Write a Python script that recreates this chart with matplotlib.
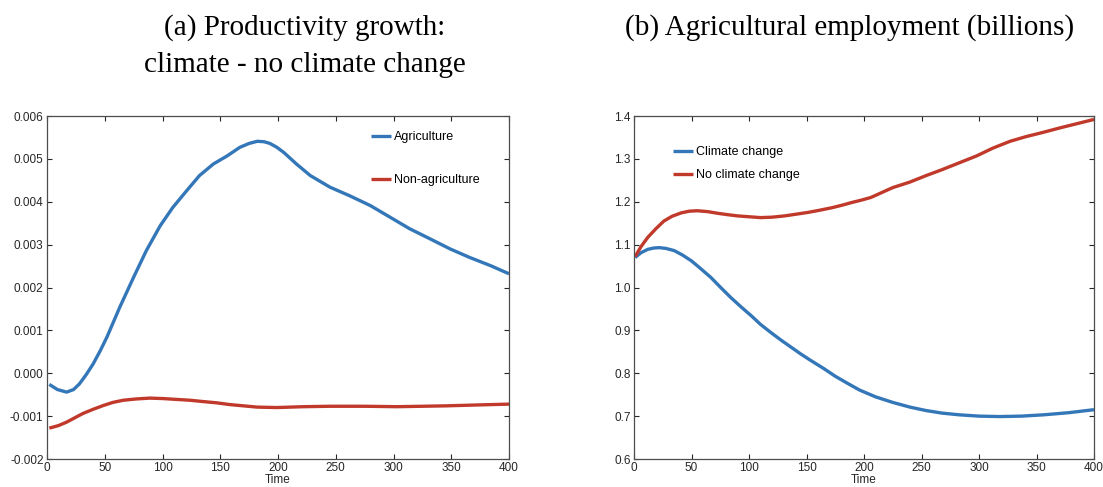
import matplotlib
matplotlib.use('Agg')
import matplotlib.pyplot as plt
from matplotlib.ticker import FormatStrFormatter

# (a) productivity growth difference, climate - no climate change
t_agri = [2, 9, 17, 23, 28, 34, 40, 46, 52, 63, 75, 86, 98, 109, 121, 132, 144, 156, 167,
          175, 182, 188, 193, 199, 205, 216, 228, 245, 262, 280, 297, 314, 332, 349, 366,
          384, 400]
agri = [-0.00026, -0.00038, -0.00044, -0.00038, -0.00025, -0.00003, 0.00022, 0.00052,
        0.00085, 0.00154, 0.00224, 0.00286, 0.00344, 0.00387, 0.00426, 0.00461, 0.00488,
        0.00507, 0.00527, 0.00536, 0.00541, 0.00540, 0.00536, 0.00527, 0.00515, 0.00488,
        0.00461, 0.00434, 0.00414, 0.00391, 0.00364, 0.00337, 0.00313, 0.00290, 0.00270,
        0.00251, 0.00232]
t_nonagri = [2, 10, 17, 24, 31, 40, 49, 57, 66, 77, 89, 100, 112, 124, 135, 147, 158, 170,
             182, 199, 222, 245, 275, 303, 325, 346, 372, 400]
nonagri = [-0.00128, -0.00122, -0.00114, -0.00104, -0.00094, -0.00084, -0.00075, -0.00068,
           -0.00063, -0.00060, -0.00058, -0.00059, -0.00061, -0.00063, -0.00066, -0.00069,
           -0.00073, -0.00076, -0.00079, -0.00080, -0.00078, -0.00077, -0.00077, -0.00078,
           -0.00077, -0.00076, -0.00074, -0.00072]

# (b) agricultural employment (billions)
t_clim = [1, 6, 12, 17, 22, 28, 35, 42, 50, 58, 67, 75, 84, 93, 102, 110, 119, 128, 137,
          145, 153, 165, 175, 186, 196, 210, 225, 240, 254, 268, 283, 300, 318, 337, 356,
          378, 400]
clim = [1.070, 1.081, 1.089, 1.092, 1.093, 1.091, 1.086, 1.076, 1.062, 1.044, 1.023,
        1.001, 0.977, 0.955, 0.934, 0.914, 0.895, 0.877, 0.860, 0.845, 0.831, 0.811, 0.793,
        0.776, 0.761, 0.745, 0.732, 0.721, 0.713, 0.707, 0.703, 0.700, 0.699, 0.700, 0.703,
        0.708, 0.715]
t_noclim = [1, 6, 12, 19, 26, 33, 41, 48, 55, 64, 73, 81, 90, 100, 110, 120, 131, 141, 151,
            161, 172, 181, 189, 198, 206, 225, 240, 254, 268, 283, 298, 312, 327, 341, 356,
            370, 385, 400]
noclim = [1.072, 1.095, 1.117, 1.137, 1.155, 1.166, 1.174, 1.178, 1.179, 1.177, 1.173,
          1.170, 1.167, 1.165, 1.163, 1.164, 1.167, 1.171, 1.175, 1.180, 1.186, 1.192, 1.198,
          1.204, 1.210, 1.233, 1.246, 1.261, 1.275, 1.291, 1.307, 1.325, 1.341, 1.352, 1.362,
          1.372, 1.382, 1.392]

blue = '#3477b9'
red = '#c0392b'
W, H = 1103, 487

plt.rcParams['font.family'] = ['Liberation Sans', 'DejaVu Sans']
fig = plt.figure(figsize=(W / 100, H / 100), dpi=100)

ax1 = fig.add_axes([47 / W, 1 - 459 / H, 462 / W, 343 / H])
ax2 = fig.add_axes([634 / W, 1 - 459 / H, 460 / W, 343 / H])

kw = dict(lw=2.4, solid_joinstyle='round', solid_capstyle='butt')
ax1.plot(t_agri, agri, color=blue, label='Agriculture', **kw)
ax1.plot(t_nonagri, nonagri, color=red, label='Non-agriculture', **kw)
ax1.set_ylim(-0.002, 0.006)
ax1.yaxis.set_major_formatter(FormatStrFormatter('%.3f'))
ax1.legend(loc='upper left', bbox_to_anchor=(371 / W, 1 - 131 / H),
           bbox_transform=fig.transFigure, frameon=False, fontsize=9, borderpad=0,
           borderaxespad=0, handlelength=1.6, handletextpad=0.25, labelspacing=2.5)

ax2.plot(t_clim, clim, color=blue, label='Climate change', **kw)
ax2.plot(t_noclim, noclim, color=red, label='No climate change', **kw)
ax2.set_ylim(0.6, 1.4)
ax2.yaxis.set_major_formatter(FormatStrFormatter('%.1f'))
ax2.legend(loc='upper left', bbox_to_anchor=(673 / W, 1 - 146 / H),
           bbox_transform=fig.transFigure, frameon=False, fontsize=9, borderpad=0,
           borderaxespad=0, handlelength=1.6, handletextpad=0.25, labelspacing=0.9)

for ax in (ax1, ax2):
    ax.set_xlim(0, 400)
    ax.set_xticks(range(0, 401, 50))
    ax.tick_params(direction='in', top=True, right=True, length=3.5, width=0.8,
                   labelsize=8.5, colors='#262626', pad=2.5)
    for s in ax.spines.values():
        s.set_color('#4d4d4d')
        s.set_linewidth(0.9)
    ax.set_xlabel('Time', fontsize=8.5, labelpad=0, color='#262626')

serif = ['Liberation Serif', 'DejaVu Serif']
fig.text(305 / W, 1 - 35 / H, '(a) Productivity growth:', ha='center', va='baseline',
         fontsize=21, family=serif)
fig.text(305 / W, 1 - 72 / H, 'climate - no climate change', ha='center', va='baseline',
         fontsize=21, family=serif)
fig.text(850 / W, 1 - 35 / H, '(b) Agricultural employment (billions)', ha='center',
         va='baseline', fontsize=21, family=serif)

fig.savefig('out.png', dpi=100)
